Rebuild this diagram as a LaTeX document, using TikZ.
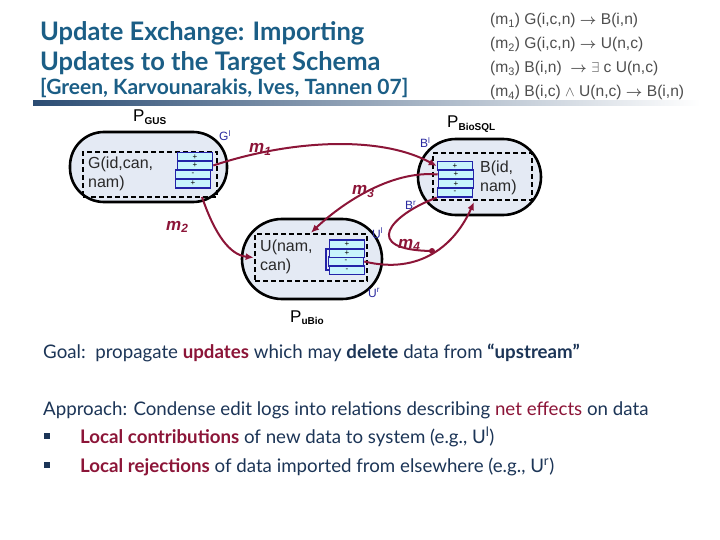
\documentclass[tikz,border=0pt]{standalone}
\usepackage{fontspec}
\setmainfont{Lato}
\newfontfamily\arial{Liberation Sans}
\usetikzlibrary{arrows.meta}
\definecolor{titleblue}{HTML}{1B5E86}
\definecolor{navy}{HTML}{1C3557}
\definecolor{dred}{HTML}{8C1538}
\definecolor{mapgrey}{HTML}{3A3A3A}
\definecolor{peerfill}{HTML}{E4EAF4}
\definecolor{cellfill}{HTML}{C8F4FC}
\definecolor{cellblue}{HTML}{2323A8}
\definecolor{lblblue}{HTML}{2A2AA0}
\definecolor{rulestart}{HTML}{2B4C73}
\begin{document}
\begin{tikzpicture}[x=1pt,y=-1pt,
  peer/.style={draw=black, fill=peerfill, line width=2.6pt},
  dbox/.style={draw=black, line width=2.6pt, dash pattern=on 5pt off 3pt, inner sep=0pt},
  cell/.style={draw=cellblue, fill=cellfill, line width=1.6pt, minimum width=35pt, minimum height=8.6pt, inner sep=0pt, font=\arial\fontsize{8}{8}\selectfont},
  reltext/.style={font=\arial\fontsize{16}{19}\selectfont, align=left, anchor=north west, inner sep=0pt, text=mapgrey!70!black},
  sup/.style={font=\arial\fontsize{12}{12}\selectfont, text=lblblue, inner sep=0pt},
  plabel/.style={font=\arial\fontsize{17}{17}\selectfont, inner sep=0pt},
  mlabel/.style={font=\arial\bfseries\itshape\fontsize{17}{17}\selectfont, text=dred, inner sep=0pt},
  map/.style={draw=dred, line width=2pt, -{Latex[length=8pt,width=7pt]}},
  maprel/.style={font=\arial\fontsize{15.6}{15.6}\selectfont, text=mapgrey!90, anchor=base west, inner sep=0pt},
  body/.style={font=\fontsize{18.7}{22}\selectfont, text=navy, anchor=base west, inner sep=0pt}]
\useasboundingbox (0,0) rectangle (720,540);
\fill[white] (0,0) rectangle (720,540);

% Title
\node[font=\bfseries\fontsize{25.5}{30}\selectfont, text=titleblue, anchor=base west, inner sep=0pt] (t1) at (40,41) {Update Exchange: Importing};
\node[font=\bfseries\fontsize{25.5}{30}\selectfont, text=titleblue, anchor=base west, inner sep=0pt] (t2) at (40,71) {Updates to the Target Schema};
\node[font=\bfseries\fontsize{21}{24}\selectfont, text=titleblue, anchor=base west, inner sep=0pt] (t3) at (40,95) {[Green, Karvounarakis, Ives, Tannen 07]};
\shade[left color=rulestart, right color=white] (33,101) rectangle (700,106);

% Mapping rules
\node[maprel] (r1) at (490,25) {(m\textsubscript{1}) G(i,c,n) {\boldmath$\rightarrow$} B(i,n)};
\node[maprel] (r2) at (490,49) {(m\textsubscript{2}) G(i,c,n) {\boldmath$\rightarrow$} U(n,c)};
\node[maprel] (r3) at (490,73) {(m\textsubscript{3}) B(i,n) \ {\boldmath$\rightarrow$} $\exists$ c U(n,c)};
\node[maprel] (r4) at (490,97) {(m\textsubscript{4}) B(i,c) $\wedge$ U(n,c) {\boldmath$\rightarrow$} B(i,n)};

% Peer GUS
\draw[peer, rounded corners=34pt] (70,132) rectangle (227,202);
\node[dbox, minimum width=134pt, minimum height=45pt] (gdash) at (150,174.5) {};
\node[reltext] (gtext) at (88,157) {G(id,can,\\nam)};
\node[cell] (g3) at (193,174.5) {-};
\node[cell] (g4) at (193,183.5) {+};
\node[cell] (g1) at (195,157) {+};
\node[cell] (g2) at (195,165.5) {+};
\node[plabel, anchor=base west] (pgus) at (133,122) {P\textsubscript{\bfseries\fontsize{10}{10}\selectfont GUS}};
\node[sup, anchor=base west] (gl) at (219,141) {G\textsuperscript{l}};

% Peer BioSQL
\draw[peer, rounded corners=38pt] (418,139) rectangle (541,215);
\node[dbox, minimum width=99pt, minimum height=47pt] (bdash) at (482.5,176.5) {};
\node[reltext] (btext) at (480,161) {B(id,\\nam)};
\node[cell] (b1) at (455,166) {+};
\node[cell] (b2) at (456,174.5) {+};
\node[cell] (b3) at (456,184) {+};
\node[cell] (b4) at (455,192.5) {-};
\node[plabel, anchor=base west] (pbio) at (447,128) {P\textsubscript{\bfseries\fontsize{10}{10}\selectfont BioSQL}};
\node[sup, anchor=base west] (bl) at (420,148) {B\textsuperscript{l}};
\node[sup, anchor=base west] (br) at (405,210) {B\textsuperscript{r}};

% Peer uBio
\draw[peer, rounded corners=40pt] (242,219) rectangle (382,299);
\node[dbox, minimum width=112pt, minimum height=47pt] (udash) at (311,257.5) {};
\node[reltext] (utext) at (260,240) {U(nam,\\can)};
\draw[cellblue, line width=1.4pt] (332,249) -- (326,249) -- (326,270) -- (332,270);
\node[cell] (u3) at (346,261.5) {-};
\node[cell] (u1) at (347,244.5) {+};
\node[cell] (u2) at (347,253) {+};
\node[cell] (u4) at (347,270) {-};
\node[plabel, anchor=base west] (pubio) at (290,322) {P\textsubscript{\bfseries\fontsize{10}{10}\selectfont uBio}};
\node[sup, anchor=base west] (ul) at (372,238) {U\textsuperscript{l}};
\node[sup, anchor=base west] (ur) at (368,297) {U\textsuperscript{r}};

% Mappings
\coordinate (m2s) at (202,197);
\coordinate (m4j) at (432,251);
\coordinate (m4e) at (474,202);
\draw[map] (g2.east) .. controls (290,140) and (380,135) .. (b1.west);
\draw[map] (b2.west) .. controls (390,170) and (340,205) .. (udash.north);
\draw[map] (m2s) .. controls (215,235) and (230,255) .. (udash.west);
\draw[draw=dred, line width=2pt] (b4.south west) .. controls (390,215) and (360,250) .. (m4j);
\fill[dred] (m4j) circle (3pt);
\draw[map] (u3.east) .. controls (420,275) and (455,245) .. (m4e);
\node[mlabel, anchor=base west] (ml1) at (249,153) {m\textsubscript{1}};
\node[mlabel, anchor=base west] (ml2) at (166,230) {m\textsubscript{2}};
\node[mlabel, anchor=base west] (ml3) at (352,195) {m\textsubscript{3}};
\node[mlabel, anchor=base west] (ml4) at (398,248) {m\textsubscript{4}};

% Body text
\node[body] (goal) at (43,358) {Goal:\ \ propagate {\bfseries\color{dred}updates} which may {\bfseries delete} data from {\bfseries ``upstream''}};
\node[body] (appr) at (43,415) {Approach: Condense edit logs into relations describing {\color{dred}net effects} on data};
\fill[navy] (44,433) rectangle (50,439);
\node[body] (l1) at (80,443) {{\bfseries\color{dred}Local contributions} of new data to system (e.g., U\textsuperscript{l})};
\fill[navy] (44,462) rectangle (50,468);
\node[body] (l2) at (80,472) {{\bfseries\color{dred}Local rejections} of data imported from elsewhere (e.g., U\textsuperscript{r})};
\end{tikzpicture}
\end{document}
